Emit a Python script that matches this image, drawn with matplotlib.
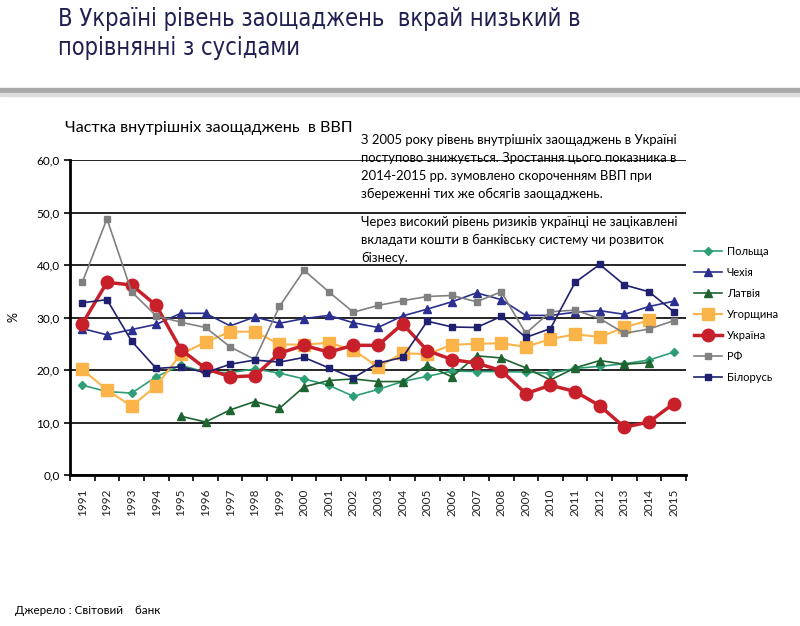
import numpy as np
import matplotlib
matplotlib.use('Agg')
import matplotlib.pyplot as plt
from matplotlib.patches import Rectangle

plt.rcParams['font.family'] = ['Lato', 'DejaVu Sans']

years = [str(y) for y in range(1991, 2016)]
nan = np.nan

poland = [17.1, 15.9, 15.6, 18.7, 20.9, 19.6, 19.5, 20.2, 19.4, 18.3, 17.1, 15.0, 16.3,
          17.8, 18.8, 19.8, 19.7, 19.7, 19.6, 19.4, 20.3, 20.7, 21.2, 21.9, 23.4]
czech = [27.9, 26.7, 27.7, 28.7, 30.8, 30.8, 28.4, 30.1, 28.9, 29.8, 30.4, 29.0, 28.1,
         30.3, 31.6, 33.0, 34.7, 33.4, 30.4, 30.4, 31.0, 31.3, 30.6, 32.1, 33.1]
latvia = [nan, nan, nan, nan, 11.2, 10.1, 12.4, 14.0, 12.7, 16.8, 18.0, 18.3, 17.8,
          17.8, 20.9, 18.7, 22.7, 22.3, 20.4, 18.1, 20.4, 21.8, 21.1, 21.4, nan]
hungary = [20.1, 16.2, 13.1, 17.0, 23.0, 25.3, 27.3, 27.3, 24.9, 24.8, 25.2, 23.8, 20.6,
           23.2, 23.0, 24.8, 25.0, 25.1, 24.4, 25.9, 26.8, 26.3, 28.1, 29.5, nan]
ukraine = [28.8, 36.7, 36.2, 32.3, 23.9, 20.3, 18.7, 18.9, 23.2, 24.7, 23.4, 24.7, 24.7,
           28.8, 23.7, 22.0, 21.3, 19.9, 15.5, 17.1, 15.9, 13.2, 9.1, 10.1, 13.6]
russia = [36.7, 48.8, 34.9, 30.3, 29.1, 28.1, 24.4, 22.0, 32.1, 39.0, 34.9, 31.0, 32.3,
          33.2, 34.0, 34.2, 33.0, 34.9, 27.0, 31.1, 31.4, 29.8, 27.0, 27.8, 29.4]
belarus = [32.8, 33.4, 25.5, 20.3, 20.6, 19.5, 21.1, 21.9, 21.5, 22.4, 20.4, 18.5, 21.3,
           22.4, 29.3, 28.2, 28.1, 30.2, 26.2, 27.9, 36.7, 40.1, 36.2, 34.9, 31.1]

series = [
    ('Польща', poland, '#2E9E74', 'D', 4, 1.2),
    ('Чехія', czech, '#2B2F8F', '^', 5.5, 1.2),
    ('Латвія', latvia, '#1E6430', '^', 5.5, 1.2),
    ('Угорщина', hungary, '#FBB449', 's', 8, 1.5),
    ('Україна', ukraine, '#C8202A', 'o', 9, 2.5),
    ('РФ', russia, '#808080', 's', 5, 1.2),
    ('Білорусь', belarus, '#1F2070', 's', 5, 1.2),
]

fig = plt.figure(figsize=(8, 6.26), dpi=100)
ax = fig.add_axes([0.0875, 0.2412, 0.77, 0.5032])

x = np.arange(len(years))
for name, vals, color, marker, ms, lw in series:
    ax.plot(x, vals, color=color, marker=marker, markersize=ms, linewidth=lw,
            label=name, zorder=3)

ax.set_xlim(-0.5, len(years) - 0.5)
ax.set_ylim(0, 60)
ax.set_yticks(np.arange(0, 61, 10))
ax.yaxis.set_major_formatter(plt.FuncFormatter(lambda v, p: ('%.1f' % v).replace('.', ',')))
ax.set_xticks(x)
ax.set_xticklabels(years, rotation=90, fontsize=8.5, color='#222222')
ax.set_xticks(np.arange(-0.5, len(years)), minor=True)
ax.tick_params(axis='x', which='major', length=0, pad=10)
ax.tick_params(axis='x', which='minor', length=4, width=1.2, direction='out')
ax.tick_params(axis='y', labelsize=8.5, length=4, width=1.2)
ax.grid(axis='y', color='black', linewidth=1.2)
ax.set_axisbelow(True)
for s in ['top', 'right']:
    ax.spines[s].set_visible(False)
ax.spines['left'].set_linewidth(2)
ax.spines['bottom'].set_linewidth(2)
ax.set_ylabel('%', fontsize=9, va='center')
ax.yaxis.set_label_coords(-0.092, 0.5)

ax.legend(loc='upper left', bbox_to_anchor=(1.005, 0.74), frameon=False, fontsize=8,
          handlelength=2.6, labelspacing=0.9, handletextpad=0.4, borderaxespad=0)

# header
title_kw = dict(fontsize=17, color='#1F2050', va='center',
                family=['DejaVu Sans', 'Roboto'], fontstretch='condensed')
fig.text(0.0725, 0.970, 'В Україні рівень заощаджень  вкрай низький в', **title_kw)
fig.text(0.0725, 0.923, 'порівнянні з сусідами', **title_kw)
fig.patches.append(Rectangle((0, 0.852), 1, 0.007, transform=fig.transFigure,
                             color='#A9A9A9', zorder=0))
fig.patches.append(Rectangle((0, 0.846), 1, 0.006, transform=fig.transFigure,
                             color='#DCDCDC', zorder=0))

fig.text(0.081, 0.795, 'Частка внутрішніх заощаджень  в ВВП', fontsize=11.6, va='center')

note1 = ['З 2005 року рівень внутрішніх заощаджень в Україні',
         'поступово знижується. Зростання цього показника в',
         '2014-2015 рр. зумовлено скороченням ВВП при',
         'збереженні тих же обсягів заощаджень.']
note2 = ['Через високий рівень ризиків українці не зацікавлені',
         'вкладати кошти в банківську систему чи розвиток',
         'бізнесу.']
for i, line in enumerate(note1):
    fig.text(0.451, 1 - (140 + 18 * i) / 626, line, fontsize=9.4, va='center', zorder=5)
for i, line in enumerate(note2):
    fig.text(0.451, 1 - (222 + 18 * i) / 626, line, fontsize=9.4, va='center', zorder=5)

fig.text(0.019, 0.025, 'Джерело : Світовий    банк', fontsize=8.4, va='center')

fig.savefig('out.png', dpi=100)
